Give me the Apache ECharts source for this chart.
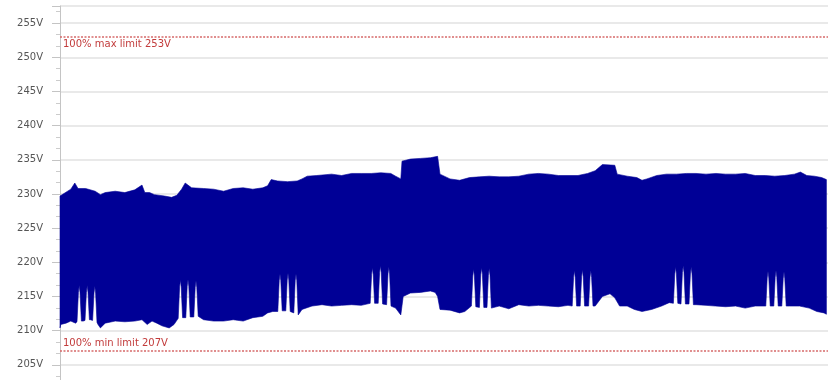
<!DOCTYPE html>
<html>
<head>
<meta charset="utf-8">
<script src="https://cdn.jsdelivr.net/npm/echarts@6/dist/echarts.min.js"></script>
<style>
  html, body { margin: 0; padding: 0; background: #ffffff; }
  #chart { width: 828px; height: 380px; }
</style>
</head>
<body>
<div id="chart"></div>
<script>
// Voltage tick labels shown on the y axis
const voltTicks = [205, 210, 215, 220, 225, 230, 235, 240, 245, 250, 255];

// Limit lines and their captions
const limitValues = [253, 207];
const limitLabels = ['100% max limit 253V', '100% min limit 207V'];

// Upper envelope of the voltage band (hours, volts)
const topHours = [0, 2.7, 3.7, 4.5, 6.4, 8.8, 10.1, 11.3, 13.8, 16.2, 18.7, 20.5, 21.2, 22.4, 23.6, 26.1,
  27.9, 29.2, 30.4, 31.3, 32.9, 35.9, 38.4, 40.9, 43.3, 45.8, 48.2, 50.7, 51.9, 52.8, 54.4, 56.9, 59.3,
  60.5, 61.8, 64.2, 67.9, 70.4, 72.9, 75.3, 77.8, 80.2, 82.7, 83.9, 85.2, 85.5, 87.6, 90.1, 92.6, 94.4,
  95.0, 97.5, 99.9, 102.4, 104.9, 107.3, 109.8, 112.2, 114.7, 117.2, 119.6, 122.1, 124.6, 127.0, 129.5,
  131.9, 133.8, 135.6, 138.7, 139.3, 141.8, 144.2, 145.5, 146.7, 149.2, 151.6, 154.1, 156.6, 159.0,
  161.5, 164.0, 166.4, 168.9, 171.3, 173.8, 176.3, 178.7, 181.2, 183.6, 185.1, 186.7, 188.6, 190.4, 191.6];
const topVolts = [229.7, 230.7, 231.6, 230.8, 230.8, 230.4, 229.9, 230.2, 230.4, 230.2, 230.6, 231.3, 230.2,
  230.2, 229.9, 229.7, 229.5, 229.8, 230.7, 231.6, 230.9, 230.8, 230.7, 230.4, 230.8, 230.9, 230.7, 230.9,
  231.2, 232.1, 231.9, 231.8, 231.9, 232.2, 232.6, 232.7, 232.9, 232.7, 233.0, 233.0, 233.0, 233.1, 233.0,
  232.6, 232.2, 234.8, 235.1, 235.2, 235.3, 235.5, 232.9, 232.2, 232.0, 232.4, 232.5, 232.6, 232.5, 232.5,
  232.6, 232.9, 233.0, 232.9, 232.7, 232.7, 232.7, 233.0, 233.4, 234.3, 234.2, 232.9, 232.6, 232.4, 232.0,
  232.2, 232.7, 232.9, 232.9, 233.0, 233.0, 232.9, 233.0, 232.9, 232.9, 233.0, 232.7, 232.7, 232.6, 232.7,
  232.9, 233.2, 232.7, 232.6, 232.4, 232.1];

// Lower envelope of the voltage band (hours, volts), with the short daily excursions
const lowHours = [0, 0.2, 1.5, 2.7, 3.9,
  4.25, 4.6, 4.8, 5.0, 5.35, 5.8, 6.25, 6.6, 6.8, 7.0, 7.35, 7.6, 8.15, 8.5, 8.7, 8.9, 9.25,
  9.5, 10.1, 11.3, 13.8, 16.2, 18.7, 20.5, 21.8, 23.0, 24.2, 25.5, 27.3, 28.5,
  29.55, 29.9, 30.1, 30.3, 30.65, 31.45, 31.8, 32.0, 32.2, 32.55, 33.45, 33.8, 34.0, 34.2, 34.55,
  35.9, 38.4, 40.9, 43.3, 45.8, 48.2, 50.7, 51.9, 53.2,
  54.45, 54.8, 55.0, 55.2, 55.55, 56.45, 56.8, 57.0, 57.2, 57.55, 58.45, 58.8, 59.0, 59.2, 59.55,
  60.5, 63.0, 65.5, 67.9, 70.4, 72.9, 75.3,
  77.55, 77.9, 78.1, 78.3, 78.65, 79.55, 79.9, 80.1, 80.3, 80.65, 81.65, 82.0, 82.2, 82.4, 82.75,
  83.9, 85.2, 85.8, 87.6, 90.1, 92.6, 93.8, 94.4, 95.0, 97.5, 99.9, 101.2,
  102.85, 103.2, 103.4, 103.6, 103.95, 104.85, 105.2, 105.4, 105.6, 105.95, 106.75, 107.1, 107.3, 107.5, 107.85,
  109.8, 112.2, 114.7, 117.2, 119.6, 122.1, 124.6, 127.0,
  128.05, 128.4, 128.6, 128.8, 129.15, 130.05, 130.4, 130.6, 130.8, 131.15, 132.15, 132.5, 132.7, 132.9, 133.25,
  133.8, 135.6, 137.5, 138.7, 139.9, 141.8, 143.6, 145.5, 147.9, 150.4, 152.3,
  153.35, 153.7, 153.9, 154.1, 154.45, 155.25, 155.6, 155.8, 156.0, 156.35, 157.25, 157.6, 157.8, 158.0, 158.35,
  159.0, 161.5, 163.9, 166.4, 168.9, 171.3, 173.8,
  176.45, 176.8, 177.0, 177.2, 177.55, 178.45, 178.8, 179.0, 179.2, 179.55, 180.45, 180.8, 181.0, 181.2, 181.55,
  182.4, 184.9, 187.3, 189.2, 191.0, 191.6];
const lowVolts = [210.4, 210.9, 211.1, 211.4, 211.1,
  211.3, 215.6, 216.6, 215.6, 211.4, 211.4, 211.5, 215.6, 216.6, 215.6, 211.6, 211.6, 211.5, 215.5, 216.5, 215.5, 211.2,
  210.9, 210.4, 211.1, 211.4, 211.3, 211.4, 211.6, 210.9, 211.4, 211.1, 210.7, 210.4, 210.9,
  211.8, 216.4, 217.4, 216.4, 211.9, 211.9, 216.5, 217.5, 216.5, 212.0, 212.0, 216.3, 217.3, 216.3, 212.1,
  211.6, 211.4, 211.4, 211.6, 211.4, 211.9, 212.1, 212.6, 212.8,
  212.8, 217.3, 218.3, 217.3, 212.9, 212.9, 217.4, 218.4, 217.4, 212.8, 212.6, 217.3, 218.3, 217.3, 212.3,
  213.1, 213.6, 213.8, 213.6, 213.7, 213.8, 213.7,
  214.0, 218.2, 219.2, 218.2, 214.0, 214.0, 218.5, 219.5, 218.5, 213.9, 213.8, 218.3, 219.3, 218.3, 213.6,
  213.3, 212.3, 215.0, 215.5, 215.6, 215.8, 215.6, 215.0, 213.1, 213.0, 212.6, 212.8,
  213.6, 218.0, 219.0, 218.0, 213.5, 213.4, 218.2, 219.2, 218.2, 213.4, 213.4, 218.1, 219.1, 218.1, 213.3,
  213.6, 213.2, 213.8, 213.6, 213.7, 213.6, 213.5, 213.7,
  213.6, 217.8, 218.8, 217.8, 213.6, 213.6, 217.9, 218.9, 217.9, 213.6, 213.6, 217.8, 218.8, 217.8, 213.6,
  213.6, 215.0, 215.4, 214.8, 213.6, 213.6, 213.1, 212.8, 213.1, 213.6, 214.1,
  214.0, 218.3, 219.3, 218.3, 214.0, 213.9, 218.5, 219.5, 218.5, 213.9, 213.9, 218.3, 219.3, 218.3, 213.8,
  213.8, 213.7, 213.6, 213.5, 213.6, 213.3, 213.6,
  213.6, 217.7, 218.7, 217.7, 213.6, 213.6, 217.8, 218.8, 217.8, 213.6, 213.6, 217.6, 218.6, 217.6, 213.6,
  213.6, 213.6, 213.3, 212.8, 212.6, 212.4];

const chart = echarts.init(document.getElementById('chart'), null, { renderer: 'canvas' });

// Filled band between the lower and upper envelopes
function renderBand(params, api) {
  const points = [];
  for (let i = 0; i < topHours.length; i++) {
    points.push(api.coord([topHours[i], topVolts[i]]));
  }
  for (let i = lowHours.length - 1; i >= 0; i--) {
    points.push(api.coord([lowHours[i], lowVolts[i]]));
  }
  return {
    type: 'polygon',
    shape: { points: points },
    style: { fill: '#000096', stroke: '#000096', lineWidth: 0.6 }
  };
}

const limitColor = '#c23b3b';

chart.setOption({
  animation: false,
  backgroundColor: '#ffffff',
  grid: {
    left: 60, right: 0, top: 6, bottom: -19,
    outerBoundsMode: 'none',
    containLabel: false
  },
  xAxis: {
    type: 'value',
    min: 0,
    max: 192,
    show: false
  },
  yAxis: {
    type: 'value',
    min: 200,
    max: 257.5,
    interval: 5,
    axisLine: { show: true, lineStyle: { color: '#c4c4c4', width: 1 } },
    axisTick: { show: true, length: 8, lineStyle: { color: '#c4c4c4' } },
    minorTick: { show: true, splitNumber: 3, length: 4, lineStyle: { color: '#cccccc' } },
    minorSplitLine: { show: false },
    axisLabel: {
      margin: 17,
      color: '#555555',
      fontFamily: 'DejaVu Sans',
      fontSize: 10,
      formatter: function (v) {
        return voltTicks.indexOf(v) >= 0 ? v + 'V' : '';
      }
    },
    splitLine: { show: true, lineStyle: { color: '#e9e9e9', width: 2 } }
  },
  series: [
    {
      type: 'custom',
      name: 'Voltage',
      renderItem: renderBand,
      data: [0],
      silent: true,
      z: 2
    },
    {
      type: 'line',
      name: 'Limits',
      data: [],
      silent: true,
      z: 3,
      markLine: {
        silent: true,
        symbol: ['none', 'none'],
        lineStyle: { color: '#d66a6a', type: [2, 1.5], width: 1.5 },
        label: {
          color: limitColor,
          fontFamily: 'DejaVu Sans',
          fontSize: 10,
          distance: [3, 3]
        },
        data: [
          { yAxis: limitValues[0], label: { position: 'insideStartBottom', formatter: limitLabels[0] } },
          { yAxis: limitValues[1], label: { position: 'insideStartTop', formatter: limitLabels[1] } }
        ]
      }
    }
  ]
});
</script>
</body>
</html>
